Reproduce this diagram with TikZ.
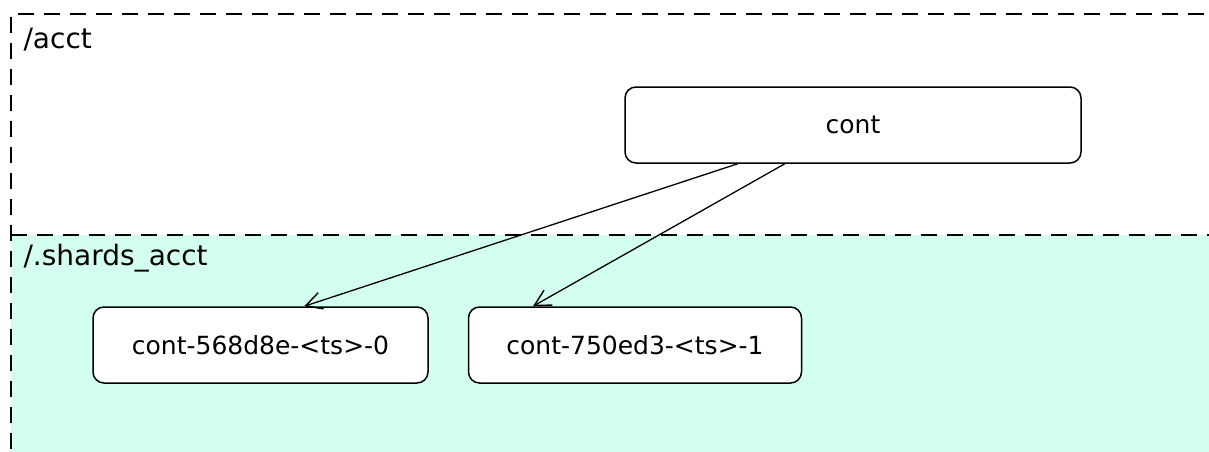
\documentclass[tikz,border=0pt]{standalone}
\usepackage{fontspec}
\setmainfont{DejaVu Sans}
\usepackage{tikz}
\usetikzlibrary{positioning, calc, arrows.meta}
\definecolor{shardfill}{RGB}{210,255,240}

\begin{document}
\begin{tikzpicture}[x=1pt, y=-1pt,
  cluster/.style={draw, dash pattern=on 16pt off 10pt, line width=1.5pt},
  lbl/.style={anchor=west, font=\fontsize{28}{33}\selectfont},
  objbox/.style={draw, rounded corners=11pt, fill=white, line width=1.5pt, minimum height=76pt, font=\fontsize{25}{30}\selectfont},
  link/.style={-{Straight Barb[length=16pt, width=17pt, line width=1.4pt]}, line width=1.3pt}]
  \useasboundingbox (0,0) rectangle (1209,451);

  % Containers
  \fill[shardfill] (11,235) rectangle (1230,470);
  \draw[cluster] (1230,14) -- (11,14) -- (11,470);
  \draw[cluster] (11,235) -- (1230,235);
  \node[lbl] (acctlabel) at (20,40) {/acct};
  \node[lbl] (shardslabel) at (20,258) {/.shards\_acct};

  % Objects
  \node[objbox, minimum width=456pt] (cont) at (853,125) {cont};
  \node[objbox, minimum width=335pt] (shard0) at (260.5,345) {cont-568d8e-<ts>-0};
  \node[objbox, minimum width=333pt, right=39pt of shard0] (shard1) {cont-750ed3-<ts>-1};

  % Links
  \draw[link] ($(cont.south west)!0.248!(cont.south east)$) -- ($(shard0.north west)!0.63!(shard0.north east)$);
  \draw[link] ($(cont.south west)!0.351!(cont.south east)$) -- ($(shard1.north west)!0.195!(shard1.north east)$);
\end{tikzpicture}
\end{document}
